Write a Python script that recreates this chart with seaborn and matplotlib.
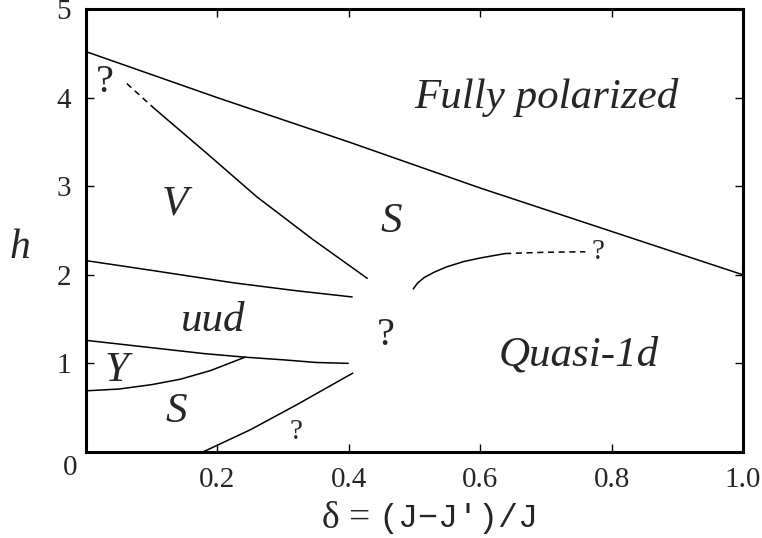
import matplotlib
matplotlib.use("Agg")
import matplotlib.pyplot as plt
import seaborn as sns
import pandas as pd

# Phase boundaries of the spatially anisotropic triangular antiferromagnet
saturation_x = [0.0, 0.2, 0.4, 0.6, 0.8, 1.0]
saturation_h = [4.52, 4.0, 3.50, 2.98, 2.49, 2.0]

v_dash_x = [0.062, 0.102]
v_dash_h = [4.16, 3.89]
v_x = [0.102, 0.184, 0.260, 0.345, 0.428]
v_h = [3.89, 3.37, 2.88, 2.40, 1.96]

v_uud_x = [0.0, 0.1, 0.224, 0.32, 0.405]
v_uud_h = [2.16, 2.05, 1.91, 1.82, 1.75]

uud_low_x = [0.0, 0.06, 0.12, 0.18, 0.242, 0.30, 0.35, 0.399]
uud_low_h = [1.26, 1.21, 1.16, 1.11, 1.07, 1.04, 1.01, 1.00]

y_s_x = [0.0, 0.05, 0.10, 0.143, 0.19, 0.242]
y_s_h = [0.69, 0.71, 0.76, 0.82, 0.92, 1.07]

s_low_x = [0.178, 0.25, 0.32, 0.406]
s_low_h = [0.0, 0.25, 0.53, 0.89]

q1d_x = [0.498, 0.505, 0.515, 0.530, 0.549, 0.575, 0.600, 0.638]
q1d_h = [1.84, 1.91, 1.97, 2.03, 2.09, 2.15, 2.19, 2.24]
q1d_dash_x = [0.638, 0.70, 0.760]
q1d_dash_h = [2.24, 2.255, 2.26]

x_ticks = [0.0, 0.2, 0.4, 0.6, 0.8, 1.0]
x_tick_labels = ["", "0.2", "0.4", "0.6", "0.8", "1.0"]
y_ticks = [0, 1, 2, 3, 4, 5]
y_tick_labels = ["", "1", "2", "3", "4", "5"]

sns.set_theme(style="white")
plt.rcParams["font.family"] = ["Liberation Serif", "DejaVu Serif"]

fig = plt.figure(figsize=(7.62, 5.38), dpi=100)
ax = fig.add_axes([0.113, 0.160, 0.862, 0.823])

curves = [
    (saturation_x, saturation_h, "-"),
    (v_dash_x, v_dash_h, (0, (4, 3))),
    (v_x, v_h, "-"),
    (v_uud_x, v_uud_h, "-"),
    (uud_low_x, uud_low_h, "-"),
    (y_s_x, y_s_h, "-"),
    (s_low_x, s_low_h, "-"),
    (q1d_x, q1d_h, "-"),
    (q1d_dash_x, q1d_dash_h, (0, (4, 3))),
]
for xs, hs, ls in curves:
    df = pd.DataFrame({"delta": xs, "h": hs})
    sns.lineplot(data=df, x="delta", y="h", ax=ax, color="black",
                 linewidth=1.1, linestyle=ls, sort=False, estimator=None)

ax.set_xlim(0, 1.0)
ax.set_ylim(0, 5)
ax.set_xticks(x_ticks)
ax.set_xticklabels(x_tick_labels)
ax.set_yticks(y_ticks)
ax.set_yticklabels(y_tick_labels)
ax.tick_params(axis="both", which="major", direction="in", length=6,
               width=1.0, color="black", labelsize=21, pad=11,
               top=True, right=True, bottom=True, left=True)
for s in ax.spines.values():
    s.set_color("black")
    s.set_linewidth(2.2)

# shared origin label
ax.text(-0.025, -0.03, "0", fontsize=21, ha="center", va="top",
        transform=ax.transData)

# axis titles
ax.set_xlabel("")
ax.text(0.432, -0.152, "δ =", fontsize=27, ha="right", va="center",
        transform=ax.transAxes)
ax.text(0.445, -0.150, "(J−J′)/J", fontsize=24, ha="left", va="center",
        family=["Liberation Mono", "DejaVu Sans Mono"],
        transform=ax.transAxes)
ax.set_ylabel("h", fontsize=30, style="italic", rotation=0, va="center",
              ha="center")
ax.yaxis.set_label_coords(-0.1, 0.46)

lab = dict(style="italic", fontsize=31, ha="center", va="center")
ax.text(0.70, 4.0, "Fully polarized", **lab)
ax.text(0.135, 2.8, "V", **lab)
ax.text(0.465, 2.6, "S", **lab)
ax.text(0.193, 1.48, "uud", **lab)
ax.text(0.046, 0.92, "Y", **lab)
ax.text(0.137, 0.45, "S", **lab)
ax.text(0.75, 1.09, "Quasi-1d", **lab)

q = dict(fontsize=29, ha="center", va="center")
ax.text(0.028, 4.17, "?", **q)
ax.text(0.456, 1.32, "?", **q)
qs = dict(fontsize=21, ha="center", va="center")
ax.text(0.32, 0.22, "?", **qs)
ax.text(0.78, 2.26, "?", **qs)

fig.savefig("out.png", dpi=100)
